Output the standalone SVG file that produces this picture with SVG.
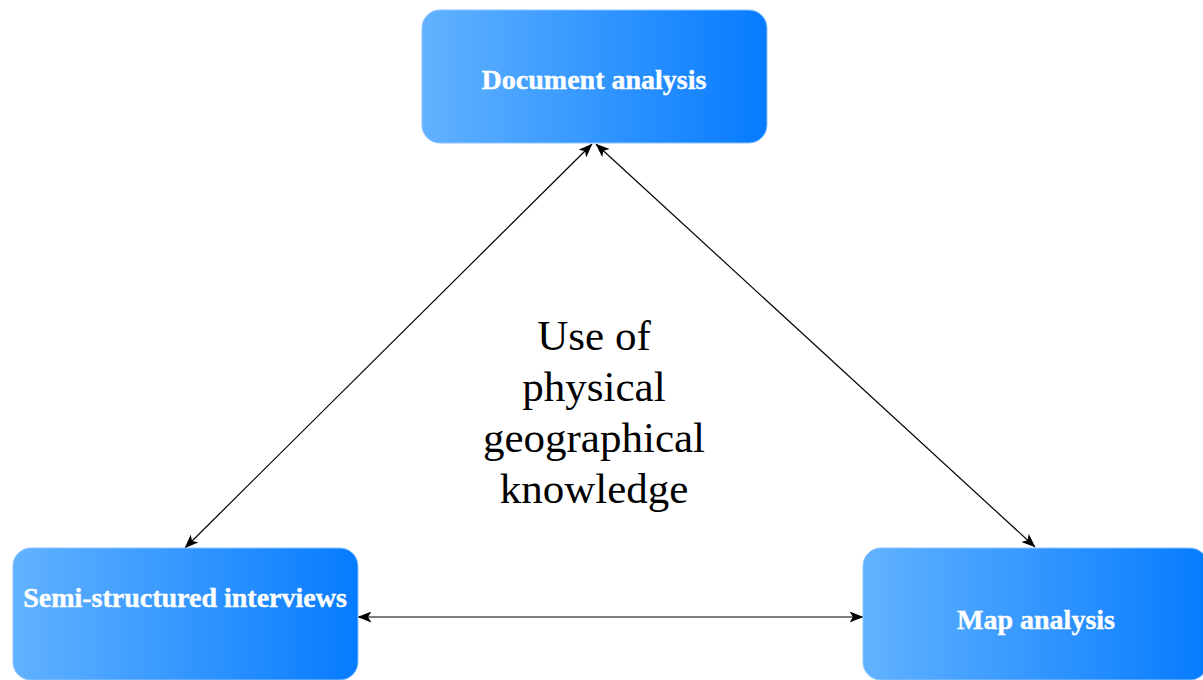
<svg xmlns="http://www.w3.org/2000/svg" width="1203" height="680" viewBox="0 0 1203 680">
  <style>
    .box { stroke: #8cc4ff; stroke-width: 1; }
    .label { font-family: "Liberation Serif", "Times New Roman", serif; font-weight: bold; font-size: 28px; fill: #ffffff; text-anchor: middle; stroke: #ffffff; stroke-width: 0.4; }
    .center { font-family: "Liberation Serif", "Times New Roman", serif; font-size: 43px; fill: #000000; text-anchor: middle; }
    .link { stroke: #000000; stroke-width: 1.2; fill: none; marker-start: url(#head); marker-end: url(#head); }
  </style>
  <defs>
    <linearGradient id="blue" x1="0" y1="0" x2="1" y2="0">
      <stop offset="0" stop-color="#62b2ff"/>
      <stop offset="1" stop-color="#067bff"/>
    </linearGradient>
    <marker id="head" viewBox="0 0 14 11" refX="13.5" refY="5.5" markerWidth="14" markerHeight="11" markerUnits="userSpaceOnUse" orient="auto-start-reverse">
      <path d="M0,0 L14,5.5 L0,11 L3.5,5.5 Z" fill="#000000"/>
    </marker>
  </defs>

  <rect width="1203" height="680" fill="#ffffff"/>

  <!-- connectors -->
  <g id="connectors">
    <line class="link" x1="185" y1="548" x2="592" y2="144"/>
    <line class="link" x1="596" y1="144" x2="1035" y2="547"/>
    <line class="link" x1="358" y1="617" x2="863" y2="617"/>
  </g>

  <g id="document-analysis">
    <rect class="box" x="422" y="10" width="345" height="133" rx="18" fill="url(#blue)"/>
    <text class="label" x="594" y="89">Document analysis</text>
  </g>

  <g id="semi-structured-interviews">
    <rect class="box" x="13" y="548" width="345" height="132" rx="18" fill="url(#blue)"/>
    <text class="label" x="185" y="607">Semi-structured interviews</text>
  </g>

  <g id="map-analysis">
    <rect class="box" x="863" y="548" width="345" height="132" rx="18" fill="url(#blue)"/>
    <text class="label" x="1036" y="629">Map analysis</text>
  </g>

  <g id="central-theme">
    <text class="center" x="594" y="350">Use of</text>
    <text class="center" x="594" y="401">physical</text>
    <text class="center" x="594" y="452">geographical</text>
    <text class="center" x="594" y="503">knowledge</text>
  </g>
</svg>
